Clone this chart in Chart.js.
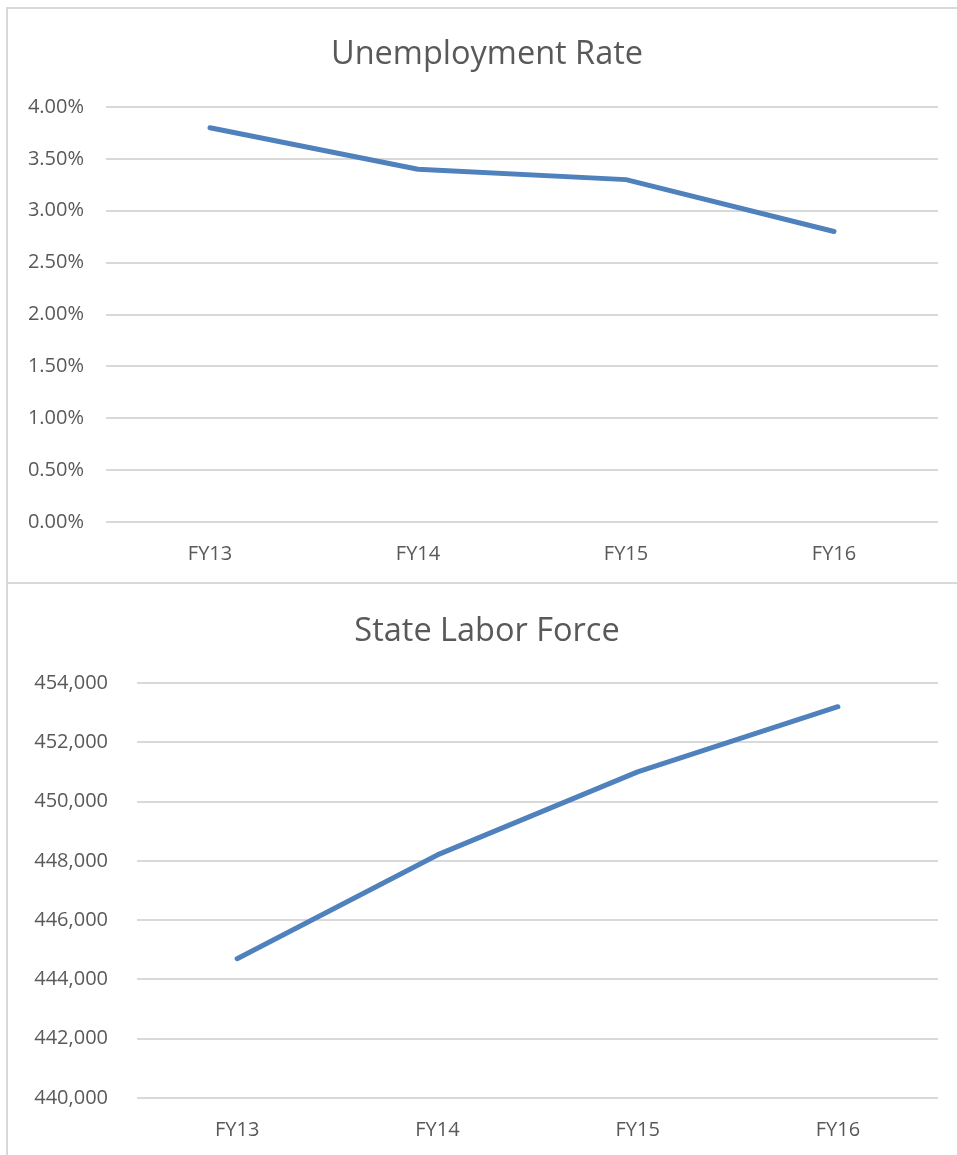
<!DOCTYPE html>
<html>
<head>
<meta charset="utf-8">
<script src="https://cdn.jsdelivr.net/npm/chart.js@4.4.1/dist/chart.umd.min.js"></script>
<style>
  html, body { margin: 0; padding: 0; background: #ffffff; width: 957px; height: 1155px; overflow: hidden; }
  .frame { position: absolute; background: #d9d9d9; }
  .box { position: absolute; }
</style>
</head>
<body>
<div class="frame" style="left:6px; top:7px; width:951px; height:2px;"></div>
<div class="frame" style="left:6px; top:7px; width:2px; height:1148px;"></div>
<div class="frame" style="left:6px; top:582px; width:951px; height:2px;"></div>
<div class="box" style="left:8px; top:9px; width:958px; height:573px;"><canvas id="c1"></canvas></div>
<div class="box" style="left:8px; top:584px; width:958px; height:571px;"><canvas id="c2"></canvas></div>
<script>
const categories = ['FY13', 'FY14', 'FY15', 'FY16'];

const rateTitle = 'Unemployment Rate';
const rateValues = [3.8, 3.4, 3.3, 2.8];
const rateTicks = ['0.00%', '0.50%', '1.00%', '1.50%', '2.00%', '2.50%', '3.00%', '3.50%', '4.00%'];
const rateMin = 0, rateMax = 4, rateStep = 0.5;

const laborTitle = 'State Labor Force';
const laborValues = [444700, 448200, 451000, 453200];
const laborTicks = ['440,000', '442,000', '444,000', '446,000', '448,000', '450,000', '452,000', '454,000'];
const laborMin = 440000, laborMax = 454000, laborStep = 2000;

const FONT = "'Open Sans', 'Liberation Sans', sans-serif";
const TEXT = '#595959';
const GRID = '#d9d9d9';
const LINE = '#4F81BD';

function makeChart(id, title, values, ticks, min, max, step, yWidth, xHeight, yPad, xPad, tTop, tBottom) {
  return new Chart(document.getElementById(id), {
    type: 'line',
    data: {
      labels: categories,
      datasets: [{
        data: values,
        borderColor: LINE,
        backgroundColor: LINE,
        borderWidth: 5,
        pointRadius: 0,
        pointHoverRadius: 0,
        tension: 0,
        borderCapStyle: 'round',
        borderJoinStyle: 'round',
        fill: false,
        yAxisID: 'y'
      }]
    },
    options: {
      responsive: true,
      maintainAspectRatio: false,
      animation: false,
      events: [],
      layout: { padding: 0 },
      plugins: {
        legend: { display: false },
        tooltip: { enabled: false },
        title: {
          display: true,
          text: title,
          color: TEXT,
          font: { family: FONT, size: 32.5, weight: 'normal', lineHeight: 1.2 },
          padding: { top: tTop, bottom: tBottom }
        }
      },
      scales: {
        x: {
          offset: true,
          grid: { display: false, drawTicks: false },
          border: { display: false },
          ticks: { color: TEXT, font: { family: FONT, size: 20 }, padding: xPad, maxRotation: 0 },
          afterFit: (s) => { s.height = xHeight; }
        },
        y: {
          min: min, max: max,
          grid: { color: GRID, lineWidth: 2, drawTicks: false },
          border: { display: false },
          ticks: {
            stepSize: step,
            color: TEXT,
            font: { family: FONT, size: 20 },
            padding: yPad,
            callback: (v, i) => ticks[i]
          },
          afterFit: (s) => { s.width = yWidth; }
        },
        yRight: {
          position: 'right',
          display: true,
          min: 0, max: 1,
          grid: { display: false, drawTicks: false },
          border: { display: false },
          ticks: { display: false },
          afterFit: (s) => { s.width = 28; }
        }
      }
    }
  });
}

makeChart('c1', rateTitle, rateValues, rateTicks, rateMin, rateMax, rateStep, 98, 60, 22, 20, 26, 33);
makeChart('c2', laborTitle, laborValues, laborTicks, laborMin, laborMax, laborStep, 129, 57, 29, 20, 28, 32);
</script>
</body>
</html>
